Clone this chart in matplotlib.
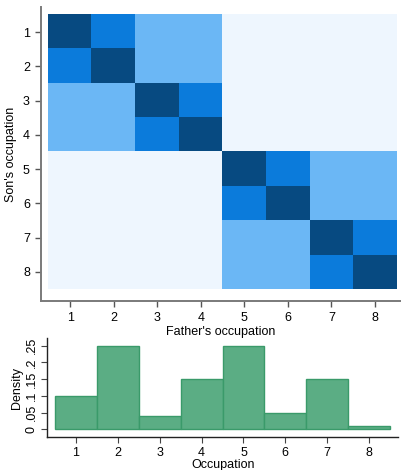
import matplotlib
matplotlib.use("Agg")
import matplotlib.pyplot as plt
import numpy as np
from matplotlib.colors import ListedColormap

plt.rcParams["font.family"] = ["Liberation Sans", "DejaVu Sans"]
plt.rcParams["font.size"] = 9

# mobility matrix levels (son x father)
occupations = [1, 2, 3, 4, 5, 6, 7, 8]
mobility = np.array([
    [3, 2, 1, 1, 0, 0, 0, 0],
    [2, 3, 1, 1, 0, 0, 0, 0],
    [1, 1, 3, 2, 0, 0, 0, 0],
    [1, 1, 2, 3, 0, 0, 0, 0],
    [0, 0, 0, 0, 3, 2, 1, 1],
    [0, 0, 0, 0, 2, 3, 1, 1],
    [0, 0, 0, 0, 1, 1, 3, 2],
    [0, 0, 0, 0, 1, 1, 2, 3],
])
density = [0.10, 0.25, 0.04, 0.15, 0.25, 0.05, 0.15, 0.01]
density_ticks = [0, 0.05, 0.10, 0.15, 0.20, 0.25]
density_labels = ["0", ".05", ".1", ".15", ".2", ".25"]

cmap = ListedColormap(["#EEF6FE", "#6BB7F5", "#0B7BDB", "#074A81"])

fig = plt.figure(figsize=(4.01, 4.70), dpi=100)

# heatmap panel
ax = fig.add_axes([41 / 401, 1 - 301 / 470, 360 / 401, 294 / 470])
ax.imshow(mobility, cmap=cmap, vmin=-0.5, vmax=3.5, aspect="auto",
          extent=(0.5, 8.5, 8.5, 0.5), interpolation="nearest")
ax.set_xlim(0.33, 8.6)
ax.set_ylim(8.85, 0.27)
ax.set_xticks(occupations)
ax.set_yticks(occupations)
for s in ["top", "right"]:
    ax.spines[s].set_visible(False)
for s in ["left", "bottom"]:
    ax.spines[s].set_color("#7a7a7a")
    ax.spines[s].set_linewidth(1.4)
ax.tick_params(direction="out", length=4, width=1, color="#555555", pad=4)
ax.set_xlabel("Father's occupation", labelpad=1)
ax.set_ylabel("Son's occupation", labelpad=4)

# histogram panel
bx = fig.add_axes([47.3 / 401, 1 - 437.3 / 470, 350.7 / 401, 99.3 / 470])
bx.bar(occupations, density, width=1.0, color="#5BAD84", edgecolor="#3A9A6A",
       linewidth=1)
bx.set_xlim(0.316, 8.69)
bx.set_ylim(-0.024, 0.273)
bx.set_xticks(occupations)
bx.set_yticks(density_ticks)
bx.set_yticklabels(density_labels, rotation=90, va="center")
for s in ["top", "right"]:
    bx.spines[s].set_visible(False)
for s in ["left", "bottom"]:
    bx.spines[s].set_color("#222222")
    bx.spines[s].set_linewidth(1)
bx.tick_params(direction="out", length=4, width=0.8, color="#444444", pad=3)
bx.set_xlabel("Occupation", labelpad=0)
bx.set_ylabel("Density", labelpad=2)

fig.savefig("out.png", dpi=100)
